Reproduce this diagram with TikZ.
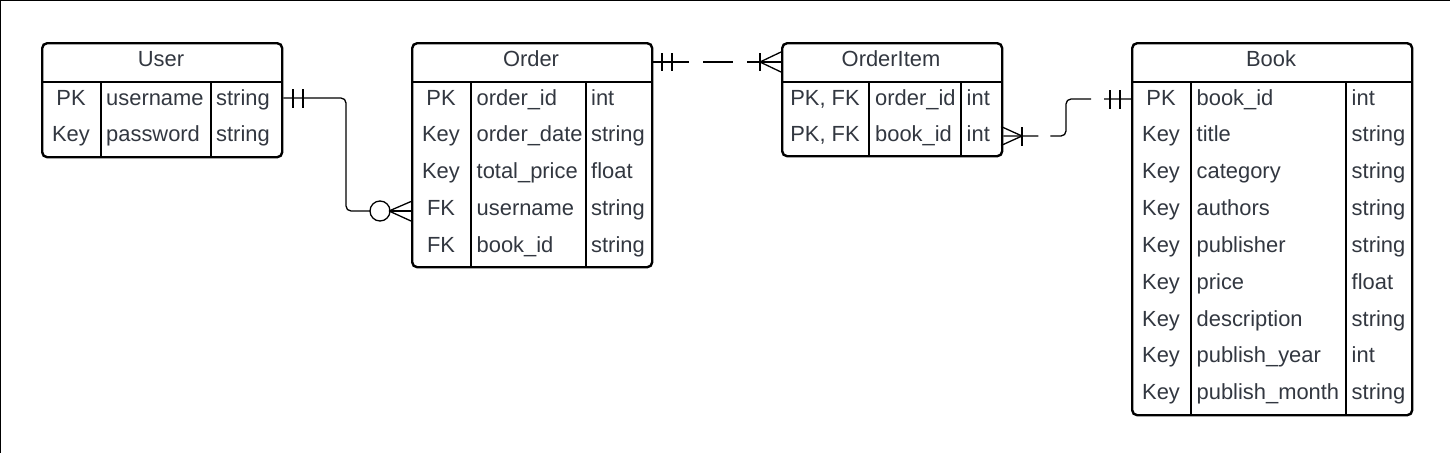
\documentclass[tikz,border=0pt]{standalone}
\usepackage{fontspec}
\setmainfont{Liberation Sans}
\definecolor{txt}{RGB}{50,55,64}
\begin{document}
\begin{tikzpicture}[x=1pt,y=-1pt,
  tbl/.style={draw=black,line width=2.4pt,rounded corners=5pt,inner sep=0pt,anchor=north west},
  sepline/.style={line width=2.4pt},
  cell/.style={inner sep=0pt,text=txt,font=\fontsize{21.9}{25}\selectfont,anchor=base west},
  keycell/.style={cell,anchor=base},
  ttl/.style={cell,anchor=base},
  conn/.style={line width=1.3pt},
]
\useasboundingbox (0,0) rectangle (1450,453);
\draw[line width=2pt] (0,453) -- (0,0) -- (1450,0);

% ---------- User ----------
\node[tbl,minimum width=240pt,minimum height=114pt] (user) at (41,42) {};
\draw[sepline] (41,82) -- (281,82);
\draw[sepline] (101,82) -- (101,156);
\draw[sepline] (211,82) -- (211,156);
\node[ttl] (user-title) at (161,66.7) {User};
\foreach \k/\n/\t [count=\i] in {PK/username/string, Key/password/string}{
  \coordinate (user-r\i) at (41,{98+36.85*(\i-1)});
  \node[keycell] (user-k\i) at (71,{105+36.85*(\i-1)}) {\k};
  \node[cell] (user-n\i) at (106,{105+36.85*(\i-1)}) {\n};
  \node[cell] (user-t\i) at (216,{105+36.85*(\i-1)}) {\t};
}

% ---------- Order ----------
\node[tbl,minimum width=240pt,minimum height=224pt] (order) at (411,42) {};
\draw[sepline] (411,82) -- (651,82);
\draw[sepline] (471,82) -- (471,266);
\draw[sepline] (586,82) -- (586,266);
\node[ttl] (order-title) at (531,66.7) {Order};
\coordinate (order-h) at (411,62);
\foreach \k/\n/\t [count=\i] in {PK/order\_id/int, Key/order\_date/string, Key/total\_price/float, FK/username/string, FK/book\_id/string}{
  \coordinate (order-r\i) at (411,{98+36.85*(\i-1)});
  \node[keycell] (order-k\i) at (441,{105+36.85*(\i-1)}) {\k};
  \node[cell] (order-n\i) at (476.5,{105+36.85*(\i-1)}) {\n};
  \node[cell] (order-t\i) at (591,{105+36.85*(\i-1)}) {\t};
}

% ---------- OrderItem ----------
\node[tbl,minimum width=220pt,minimum height=113pt] (item) at (781,42) {};
\draw[sepline] (781,82) -- (1001,82);
\draw[sepline] (869,82) -- (869,155);
\draw[sepline] (961,82) -- (961,155);
\node[ttl] (item-title) at (891,66.7) {OrderItem};
\coordinate (item-h) at (781,62);
\foreach \k/\n/\t [count=\i] in {{PK, FK}/order\_id/int, {PK, FK}/book\_id/int}{
  \coordinate (item-r\i) at (781,{98+36.85*(\i-1)});
  \node[keycell] (item-k\i) at (825,{105+36.85*(\i-1)}) {\k};
  \node[cell] (item-n\i) at (875,{105+36.85*(\i-1)}) {\n};
  \node[cell] (item-t\i) at (966.5,{105+36.85*(\i-1)}) {\t};
}

% ---------- Book ----------
\node[tbl,minimum width=280pt,minimum height=372pt] (book) at (1131,42) {};
\draw[sepline] (1131,82) -- (1411,82);
\draw[sepline] (1191,82) -- (1191,414);
\draw[sepline] (1346,82) -- (1346,414);
\node[ttl] (book-title) at (1271,66.7) {Book};
\foreach \k/\n/\t [count=\i] in {PK/book\_id/int, Key/title/string, Key/category/string, Key/authors/string, Key/publisher/string, Key/price/float, Key/description/string, Key/publish\_year/int, Key/publish\_month/string}{
  \coordinate (book-r\i) at (1131,{98+36.85*(\i-1)});
  \node[keycell] (book-k\i) at (1161,{105+36.85*(\i-1)}) {\k};
  \node[cell] (book-n\i) at (1196.5,{105+36.85*(\i-1)}) {\n};
  \node[cell] (book-t\i) at (1351.5,{105+36.85*(\i-1)}) {\t};
}

% ---------- User -> Order (one to zero-or-many) ----------
\coordinate (c1) at (380,211);
\draw[conn,rounded corners=5pt] (user.east |- user-r1) -- (346,98) -- (346,211) -- ([xshift=-10pt]c1);
\draw[conn] (c1) circle (10pt);
\draw[conn] ([xshift=10pt]c1) -- (order.west |- c1);
\draw[conn] (389,211) -- (411,201.5) (389,211) -- (411,221);
\draw[conn] (293,89) -- (293,108) (303,89) -- (303,108);

% ---------- Order -> OrderItem (one to many) ----------
\draw[conn,dash pattern=on 36pt off 14pt on 30pt off 14pt on 36pt] (order.east |- order-h) -- (item.west |- item-h);
\draw[conn] (662,53) -- (662,71) (672,53) -- (672,71);
\draw[conn] (760,53) -- (760,71);
\draw[conn] (760,62) -- (781,52) (760,62) -- (781,72);

% ---------- OrderItem -> Book (many to one) ----------
\draw[conn,rounded corners=5pt,dash pattern=on 35pt off 12pt on 73pt off 13pt on 40pt] (item.east |- 0,136) -- (1066,136) -- (1066,99) -- (book.west |- 0,99);
\draw[conn] (1022,127) -- (1022,146);
\draw[conn] (1022,136) -- (1001,126.5) (1022,136) -- (1001,145.5);
\draw[conn] (1110,90) -- (1110,109) (1120,90) -- (1120,109);
\end{tikzpicture}
\end{document}
